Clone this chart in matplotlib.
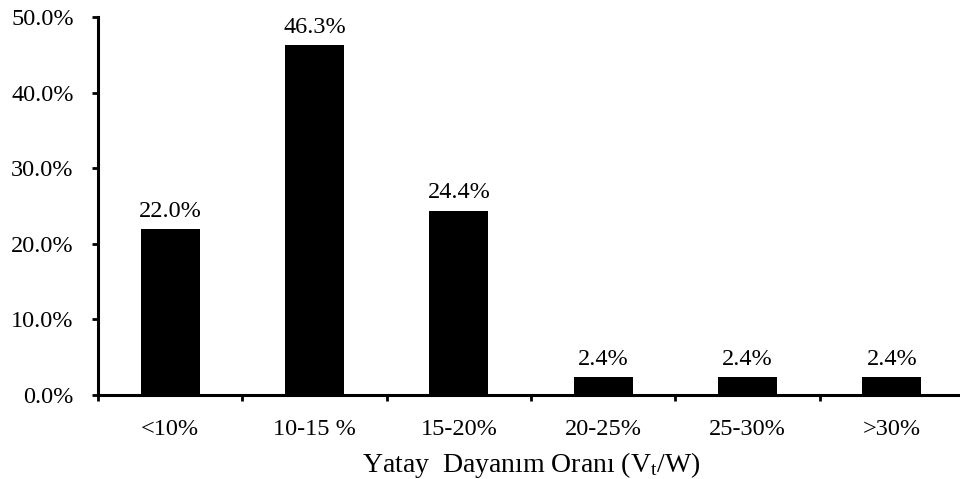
import matplotlib
matplotlib.use("Agg")
import matplotlib.pyplot as plt
from matplotlib.ticker import FixedLocator

categories = ["<10%", "10-15 %", "15-20%", "20-25%", "25-30%", ">30%"]
values = [22.0, 46.3, 24.4, 2.4, 2.4, 2.4]
yticks = [0, 10, 20, 30, 40, 50]

plt.rcParams['font.family'] = ['Liberation Serif', 'DejaVu Serif']
plt.rcParams['mathtext.fontset'] = 'custom'
plt.rcParams['mathtext.rm'] = 'Liberation Serif'
plt.rcParams['mathtext.it'] = 'Liberation Serif'

FS = 17.5
fig = plt.figure(figsize=(9.6, 4.79), dpi=100)
ax = fig.add_axes([98/960, 1-395/479, 866/960, (395-17)/479])

x = list(range(len(categories)))
ax.bar(x, values, width=0.41, color='black')
for xi, v in zip(x, values):
    ax.text(xi, v + 1.6, f"{v:.1f}%", ha='center', va='baseline', fontsize=FS)

ax.set_xlim(-0.5, len(categories) - 0.5)
ax.set_ylim(0, 50)
ax.set_yticks(yticks)
ax.set_yticklabels([f"{t:.1f}%" for t in yticks], fontsize=FS)
ax.set_xticks(x)
ax.set_xticklabels(categories, fontsize=FS)
ax.xaxis.set_minor_locator(FixedLocator([i - 0.5 for i in range(len(categories) + 1)]))
ax.tick_params(axis='x', which='major', length=0, pad=17.5)
ax.tick_params(axis='x', which='minor', length=4.5, width=2, direction='out')
ax.tick_params(axis='y', length=4.5, width=2, direction='out', pad=13)

for s in ['top', 'right']:
    ax.spines[s].set_visible(False)
for s in ['left', 'bottom']:
    ax.spines[s].set_linewidth(2.2)

ax.set_xlabel("Yatay  Dayanım Oranı (V$_\\mathrm{t}$/W)", fontsize=20, labelpad=7)

fig.savefig("out.png", dpi=100)
